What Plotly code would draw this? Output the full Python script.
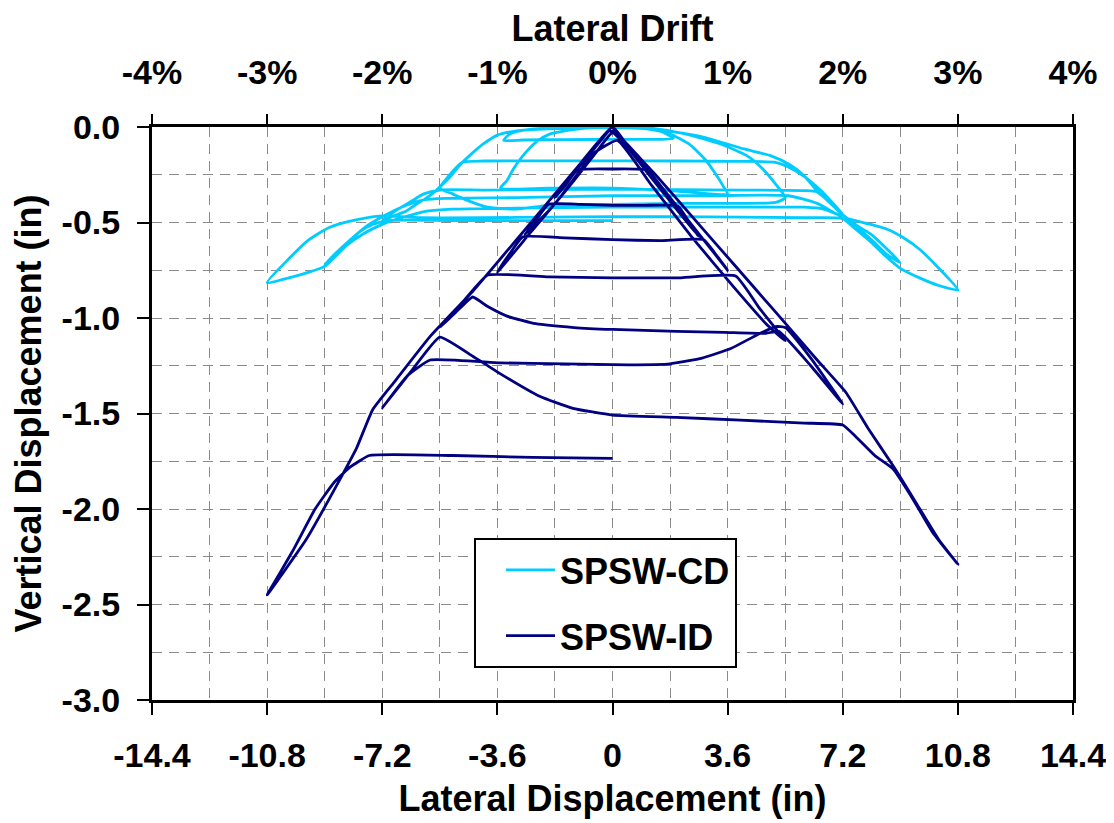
import plotly.graph_objects as go

# ---------------- data ----------------
# SPSW-CD : lateral displacement (in) / vertical displacement (in)
CD_x = [0, 0.9, 1.5, 1.9, 1.0, 0, -1.5, -2.8, -3.4, -3.2, -2.6, -1.5, 0,
        0.9, 1.8, 2.4, 2.9, 3.2, 3.5, 3.6, 2.0, 0, -2.0, -3.5,
        -3.3, -3.1, -2.8, -2.4, -1.95, -1.0, 0,
        1.2, 2.3, 3.4, 4.2, 4.7, 5.15, 5.4, 5.1, 4.0, 2.0, 0, -2.0, -3.0, -3.9, -4.6, -5.0, -5.4,
        -5.09, -4.78, -4.47, -4.05, -3.63, -3.0, -2.0, 0,
        1.5, 2.86, 4.11, 4.94, 5.57, 5.99, 6.4, 6.82, 7.2,
        6.9, 6.5, 6.0, 5.5, 5.1, 4.0, 2.0, 0, -2.0, -4.0, -4.7,
        -5.09, -5.41, -5.72, -6.14, -6.45, -6.9, -7.2,
        -6.8, -6.3, -5.9, -5.4, -4.0, -2.0, 0, 2.0, 4.0, 6.0, 6.4,
        6.82, 7.2, 7.65, 8.07, 8.59, 9.0,
        8.6, 8.1, 7.6, 7.2, 6.6, 6.0, 5.0, 3.0, 0, -3.0, -5.0, -5.8,
        -6.5, -7.2, -7.8, -8.4, -9.0,
        -8.65, -8.2, -7.7, -7.2, -6.6, -6.0, -5.5, -3.0, 0, 3.0, 5.5,
        6.4, 7.18, 8.07, 8.59, 9.1, 9.6, 10.15, 10.8,
        10.2, 9.6, 9.0, 8.5, 8.0, 7.5, 7.2, 6.0, 4.0, 2.0, 0, -2.0, -4.0, -6.0, -7.2,
        -8.13, -8.86, -9.49, -10.12, -10.8,
        -10.12, -9.49, -9.0, -8.65, -8.23, -7.92, -7.5, -7.0, -5.0, -3.0, -1.0, 0]
CD_y = [0, -0.003, -0.02, -0.06, -0.065, -0.065, -0.066, -0.068, -0.07, -0.035, -0.012, -0.003, 0,
        -0.004, -0.037, -0.09, -0.17, -0.24, -0.32, -0.35, -0.335, -0.32, -0.32, -0.32,
        -0.28, -0.22, -0.15, -0.08, -0.036, -0.008, 0,
        -0.006, -0.037, -0.09, -0.15, -0.22, -0.31, -0.37, -0.395, -0.40, -0.40, -0.405, -0.41, -0.43, -0.42, -0.38, -0.35, -0.32,
        -0.264, -0.2, -0.15, -0.09, -0.045, -0.02, -0.01, -0.003,
        -0.015, -0.054, -0.115, -0.15, -0.2, -0.255, -0.334, -0.395, -0.456,
        -0.40, -0.33, -0.26, -0.21, -0.185, -0.18, -0.178, -0.177, -0.177, -0.178, -0.185,
        -0.25, -0.315, -0.36, -0.405, -0.44, -0.47, -0.49,
        -0.44, -0.39, -0.35, -0.33, -0.33, -0.328, -0.326, -0.328, -0.33, -0.333, -0.34,
        -0.40, -0.46, -0.517, -0.56, -0.64, -0.71,
        -0.67, -0.59, -0.52, -0.47, -0.43, -0.42, -0.42, -0.42, -0.42, -0.425, -0.43, -0.44,
        -0.47, -0.51, -0.56, -0.63, -0.72,
        -0.66, -0.59, -0.52, -0.47, -0.42, -0.385, -0.375, -0.37, -0.36, -0.36, -0.36,
        -0.40, -0.47, -0.51, -0.535, -0.58, -0.64, -0.73, -0.853,
        -0.83, -0.79, -0.74, -0.67, -0.59, -0.52, -0.48, -0.475, -0.472, -0.47, -0.47, -0.472, -0.475, -0.475, -0.465,
        -0.49, -0.526, -0.59, -0.69, -0.815,
        -0.79, -0.76, -0.73, -0.675, -0.605, -0.55, -0.51, -0.49, -0.49, -0.49, -0.49, -0.49]

# SPSW-ID : lateral displacement (in) / vertical displacement (in)
ID_x = [0, 0.9, 1.8, 1.4, 1.05, 0, -1.1, -1.45, -1.8,
        -1.2, -0.6, -0.1, 0.1,
        1.0, 2.0, 2.7, 2.4, 2.05, 1.0, 0, -1.0, -2.0, -2.4, -2.75,
        -2.0, -1.2, -0.5, 0,
        0.8, 1.8, 2.8, 3.6, 3.2, 2.85, 1.5, 0, -1.5, -2.8, -3.2, -3.6,
        -2.6, -1.6, -0.6, 0.15,
        1.2, 2.5, 3.8, 4.8, 5.4, 4.6, 3.85, 2.0, 0, -2.0, -3.9, -4.6, -5.4,
        -4.9, -4.37,
        -3.9, -3.3, -2.4, -1.2, 0, 2.0, 3.5, 4.8,
        5.2, 6.2, 7.2, 6.2, 5.4, 5.1,
        4.5, 3.7, 2.8, 1.8, 0.5, -1.5, -3.5, -5.7,
        -6.4, -7.2, -6.3, -5.4,
        -4.37, -3.53, -2.28, -1.24, 0, 2.0, 4.0, 6.0, 7.2, 7.6,
        8.2, 8.77, 9.4, 10.0, 10.8,
        10.2, 9.5, 8.8, 8.0, 7.3, 6.4, 5.0, 3.8, 2.6, 1.4, 0.4, 0,
        -1.0, -2.8, -4.37, -5.72, -6.8, -7.5, -8.0, -8.54, -9.58, -10.8,
        -10.0, -9.3, -8.7, -8.2, -7.6,
        -5.0, -2.5, 0]
ID_y = [0, -0.18, -0.37, -0.29, -0.225, -0.22, -0.225, -0.3, -0.37,
        -0.24, -0.12, -0.02, -0.03,
        -0.22, -0.43, -0.575, -0.5, -0.415, -0.41, -0.41, -0.405, -0.405, -0.49, -0.565,
        -0.44, -0.28, -0.13, -0.03,
        -0.17, -0.37, -0.58, -0.75, -0.66, -0.59, -0.595, -0.59, -0.58, -0.575, -0.66, -0.76,
        -0.56, -0.36, -0.14, -0.07,
        -0.30, -0.58, -0.84, -1.03, -1.12, -0.95, -0.78, -0.79, -0.79, -0.785, -0.775, -0.90, -1.05,
        -0.97, -0.89,
        -0.94, -0.99, -1.03, -1.05, -1.06, -1.07, -1.075, -1.08,
        -1.07, -1.25, -1.45, -1.21, -1.05, -1.045,
        -1.09, -1.16, -1.21, -1.24, -1.245, -1.24, -1.235, -1.22,
        -1.3, -1.47, -1.28, -1.1,
        -1.2, -1.29, -1.41, -1.473, -1.508, -1.52, -1.535, -1.55, -1.56, -1.62,
        -1.72, -1.79, -1.95, -2.12, -2.29,
        -2.16, -1.97, -1.78, -1.58, -1.39, -1.22, -0.95, -0.72, -0.49, -0.26, -0.08, 0,
        -0.19, -0.55, -0.86, -1.10, -1.33, -1.48, -1.68, -1.85, -2.16, -2.45,
        -2.22, -2.00, -1.86, -1.78, -1.72,
        -1.72, -1.73, -1.735]

# axes ticks
x_ticks = [-14.4, -10.8, -7.2, -3.6, 0, 3.6, 7.2, 10.8, 14.4]
x_labels = ["-14.4", "-10.8", "-7.2", "-3.6", "0", "3.6", "7.2", "10.8", "14.4"]
x_minor = [-12.6, -9.0, -5.4, -1.8, 1.8, 5.4, 9.0, 12.6]
y_ticks = [0, -0.5, -1.0, -1.5, -2.0, -2.5, -3.0]
y_labels = ["0.0", "-0.5", "-1.0", "-1.5", "-2.0", "-2.5", "-3.0"]
y_minor = [-0.25, -0.75, -1.25, -1.75, -2.25, -2.75]
drift_ticks = [-4, -3, -2, -1, 0, 1, 2, 3, 4]
drift_labels = ["-4%", "-3%", "-2%", "-1%", "0%", "1%", "2%", "3%", "4%"]

FONT = "Liberation Sans, Arial, Helvetica, sans-serif"
GRID = "#8a8a8a"
DASH = "10px,7px"

fig = go.Figure()
fig.add_trace(go.Scatter(x=CD_x, y=CD_y, mode="lines", name="SPSW-CD",
                         legendgroup="cd",
                         line=dict(color="#00CCFF", width=2.8, shape="spline", smoothing=0.6)))
fig.add_trace(go.Scatter(x=ID_x, y=ID_y, mode="lines", name="SPSW-ID",
                         legendgroup="id",
                         line=dict(color="#000080", width=2.8, shape="spline", smoothing=0.4)))
# carrier for the top (drift) axis
fig.add_trace(go.Scatter(x=[drift_ticks[0], drift_ticks[-1]], y=[None, None],
                         xaxis="x2", mode="lines", showlegend=False,
                         hoverinfo="skip"))

tickfont = dict(family=FONT, size=34, color="black", weight="bold")
titlefont = dict(family=FONT, size=36, color="black", weight="bold")

# the page body adds an 8px offset; the figure is sized so the plot area lands
# at x 152..1073, y 127..700 of the window
fig.update_layout(
    width=1106, height=815,
    margin=dict(l=144, r=41, t=119, b=123, autoexpand=False),
    paper_bgcolor="white", plot_bgcolor="white",
    showlegend=True,
    legend=dict(x=0.3496, y=0.2827, xanchor="left", yanchor="top",
                bgcolor="white", bordercolor="black", borderwidth=2,
                font=dict(family=FONT, size=36, color="black", weight="bold"),
                tracegroupgap=16, itemwidth=49, indentation=25,
                entrywidth=266, entrywidthmode="pixels"),
    xaxis=dict(range=[-14.4, 14.4], tickmode="array", tickvals=x_ticks, ticktext=x_labels,
               ticks="outside", ticklen=12, tickwidth=1.5, tickcolor="black",
               ticklabelstandoff=11,
               showline=True, linewidth=3, linecolor="black", mirror=True,
               showgrid=True, gridcolor=GRID, gridwidth=1.3, griddash=DASH,
               minor=dict(tickmode="array", tickvals=x_minor, showgrid=True,
                          gridcolor=GRID, gridwidth=1.3, griddash=DASH, ticks=""),
               zeroline=False, tickfont=tickfont,
               title=dict(text="Lateral Displacement (in)", font=titlefont, standoff=14)),
    xaxis2=dict(range=[-4, 4], overlaying="x", side="top", tickmode="array",
                tickvals=drift_ticks, ticktext=drift_labels,
                ticks="outside", ticklen=12, tickwidth=1.5, tickcolor="black",
                ticklabelstandoff=16,
                showline=False, showgrid=False, zeroline=False, tickfont=tickfont,
                title=dict(text="Lateral Drift", font=titlefont, standoff=4)),
    yaxis=dict(range=[-3.0, 0.0], tickmode="array", tickvals=y_ticks, ticktext=y_labels,
               ticks="outside", ticklen=12, tickwidth=1.5, tickcolor="black",
               ticklabelstandoff=10,
               showline=True, linewidth=3, linecolor="black", mirror=True,
               showgrid=True, gridcolor=GRID, gridwidth=1.3, griddash=DASH,
               minor=dict(tickmode="array", tickvals=y_minor, showgrid=True,
                          gridcolor=GRID, gridwidth=1.3, griddash=DASH, ticks=""),
               zeroline=False, tickfont=tickfont,
               title=dict(text="Vertical Displacement (in)", font=titlefont, standoff=14)),
)

fig.write_html("out.html")
